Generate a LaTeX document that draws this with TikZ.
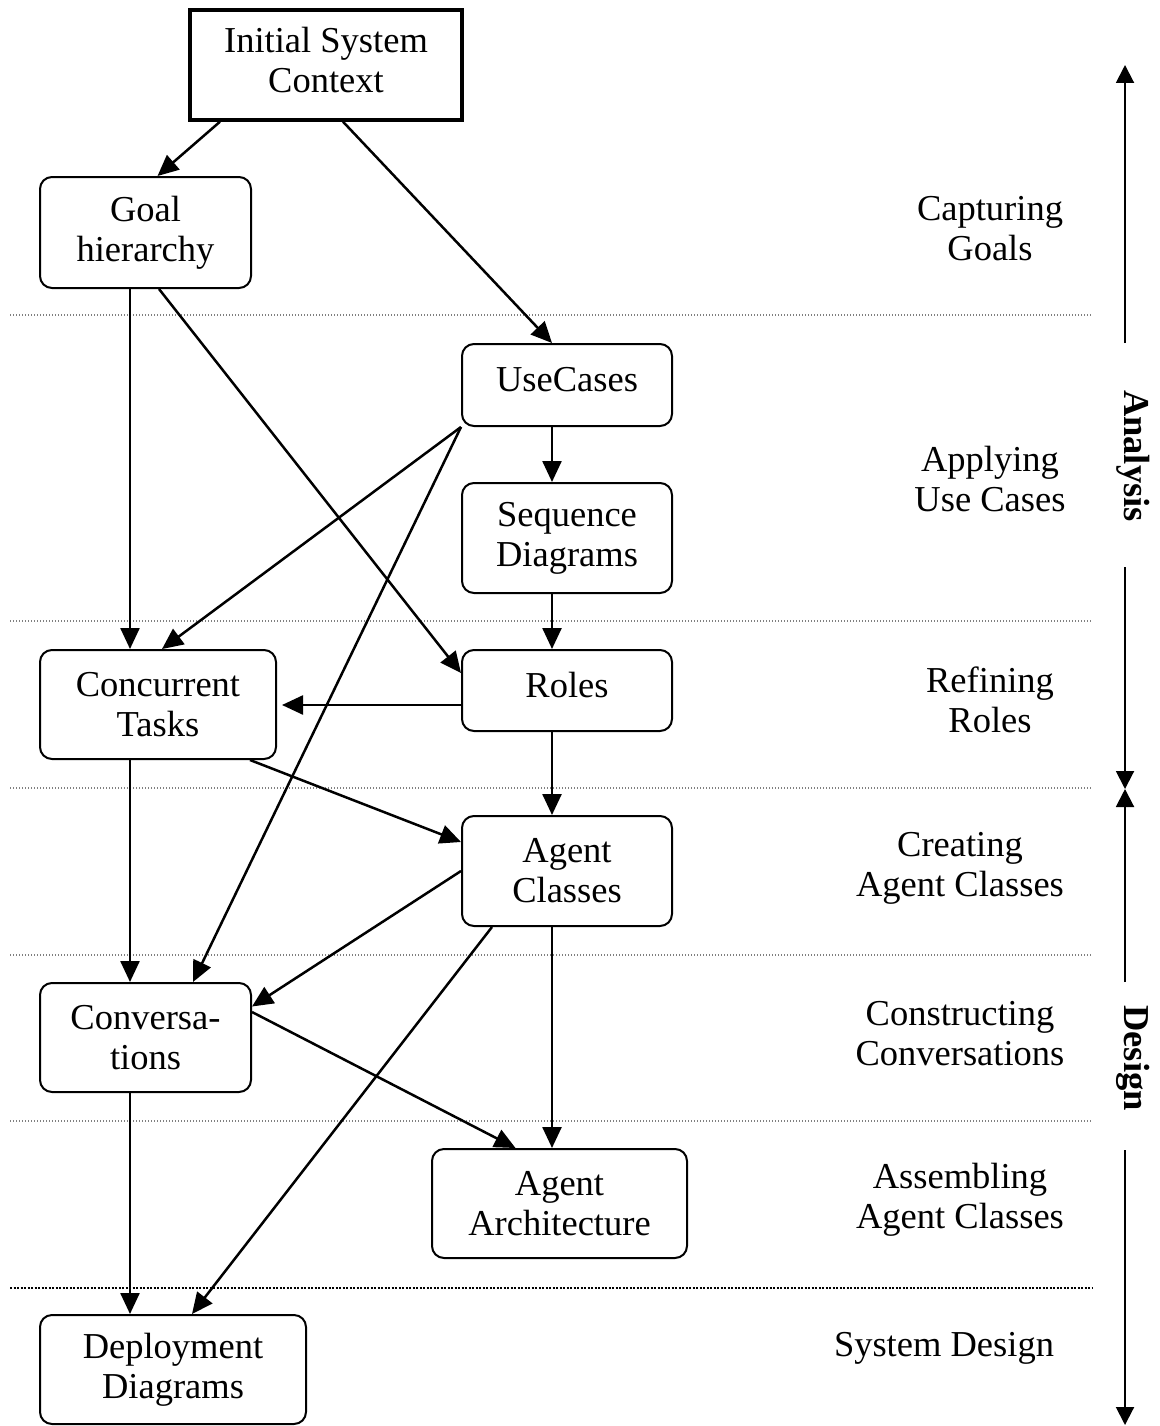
\documentclass[tikz,border=0pt]{standalone}
\usepackage{fontspec}
\setmainfont{Liberation Serif}
\usetikzlibrary{arrows.meta}
\begin{document}
\begin{tikzpicture}[x=1pt,y=-1pt,
  every node/.style={font=\fontsize{36.5}{40}\selectfont, align=center, inner sep=0pt},
  rbox/.style={draw, line width=2pt, rounded corners=12pt},
  sbox/.style={draw, line width=3.4pt},
  conn/.style={line width=2.5pt, -{Triangle[length=21pt,width=19pt]}},
  axis/.style={line width=2pt, -{Triangle[length=18pt,width=18pt]}},
  sep/.style={line width=1.2pt, gray, dash pattern=on 1pt off 2pt},
  sepdark/.style={line width=2.4pt, black, dash pattern=on 2pt off 1.5pt},
  phase/.style={font=\fontsize{36.5}{40}\selectfont\bfseries, rotate=-90},
  lbl/.style={}]
\useasboundingbox (0,0) rectangle (1159,1426);

% separators
\draw[sep] (10,315) -- (1092,315);
\draw[sep] (10,621) -- (1092,621);
\draw[sep] (10,788) -- (1092,788);
\draw[sep] (10,955) -- (1092,955);
\draw[sep] (10,1121) -- (1092,1121);
\draw[sepdark] (10,1288) -- (1092,1288);

% nodes
\node[sbox, minimum width=272pt, minimum height=110pt] (isc) at (326,65) {\raisebox{5pt}{\begin{tabular}{@{}c@{}}Initial System\\Context\end{tabular}}};
\node[rbox, minimum width=211pt, minimum height=111pt] (goal) at (145.5,232.5) {Goal\\hierarchy};
\node[rbox, minimum width=210pt, minimum height=82pt] (uc) at (567,385) {\raisebox{12pt}{UseCases}};
\node[rbox, minimum width=210pt, minimum height=110pt] (seq) at (567,538) {Sequence\\Diagrams};
\node[rbox, minimum width=236pt, minimum height=109pt] (ct) at (158,704.5) {Concurrent\\Tasks};
\node[rbox, minimum width=210pt, minimum height=81pt] (roles) at (567,690.5) {\raisebox{12pt}{Roles}};
\node[rbox, minimum width=210pt, minimum height=110pt] (ac) at (567,871) {Agent\\Classes};
\node[rbox, minimum width=211pt, minimum height=109pt] (conv) at (145.5,1037.5) {Conversa-\\tions};
\node[rbox, minimum width=255pt, minimum height=109pt] (aa) at (559.5,1203.5) {Agent\\Architecture};
\node[rbox, minimum width=266pt, minimum height=109pt] (dd) at (173,1369.5) {Deployment\\Diagrams};

% right labels
\node[lbl] (l1) at (990,229) {Capturing\\Goals};
\node[lbl] (l2) at (990,479) {Applying\\Use Cases};
\node[lbl] (l3) at (990,700) {Refining\\Roles};
\node[lbl] (l4) at (960,868) {Creating\\Agent Classes};
\node[lbl] (l5) at (960,1034) {Constructing\\Conversations};
\node[lbl] (l6) at (960,1200) {Assembling\\Agent Classes};
\node[lbl] (l7) at (944,1348) {System Design};

% phase axis
\node[phase] (an) at (1133,456) {Analysis};
\node[phase] (de) at (1133,1058) {Design};
\coordinate (a1) at (1125,343);
\coordinate (a0) at (1125,65);
\coordinate (a2) at (1125,567);
\coordinate (am) at (1125,789);
\coordinate (a3) at (1125,982);
\coordinate (a4) at (1125,1150);
\coordinate (a5) at (1125,1425);
\draw[axis] (a1) -- (a0);
\draw[axis] (a2) -- (am);
\draw[axis] (a3) -- (am);
\draw[axis] (a4) -- (a5);

% connectors
\draw[conn] ([xshift=-106pt]isc.south) -- ([xshift=12pt]goal.north);
\draw[conn] ([xshift=17pt]isc.south) -- ([xshift=-15pt]uc.north);
\draw[conn] ([xshift=-15.5pt]goal.south) -- ([xshift=-28pt]ct.north);
\draw[conn] ([xshift=13.5pt]goal.south) -- ([yshift=17.5pt]roles.west);
\draw[conn] (uc.south west) -- ([xshift=4pt]ct.north);
\draw[conn] (uc.south west) -- ([xshift=47.5pt]conv.north);
\draw[conn] ([xshift=-15pt]uc.south) -- ([xshift=-15pt]seq.north);
\draw[conn] ([xshift=-15pt]seq.south) -- ([xshift=-15pt]roles.north);
\draw[conn, shorten >=5pt] ([yshift=-14.5pt]roles.west) -- ([yshift=-0.5pt]ct.east);
\draw[conn] ([xshift=-15pt]roles.south) -- ([xshift=-15pt]ac.north);
\draw[conn] ([xshift=92pt]ct.south) -- ([yshift=29pt]ac.west);
\draw[conn] ([xshift=-28pt]ct.south) -- ([xshift=-15.5pt]conv.north);
\draw[conn] (ac.west) -- ([yshift=31pt]conv.east);
\draw[conn] ([xshift=-75pt]ac.south) -- ([xshift=19pt]dd.north);
\draw[conn] ([xshift=-15pt]ac.south) -- ([xshift=-7.5pt]aa.north);
\draw[conn] ([yshift=25.5pt]conv.east) -- ([xshift=-44pt]aa.north);
\draw[conn] ([xshift=-15.5pt]conv.south) -- ([xshift=-43pt]dd.north);
\end{tikzpicture}
\end{document}
